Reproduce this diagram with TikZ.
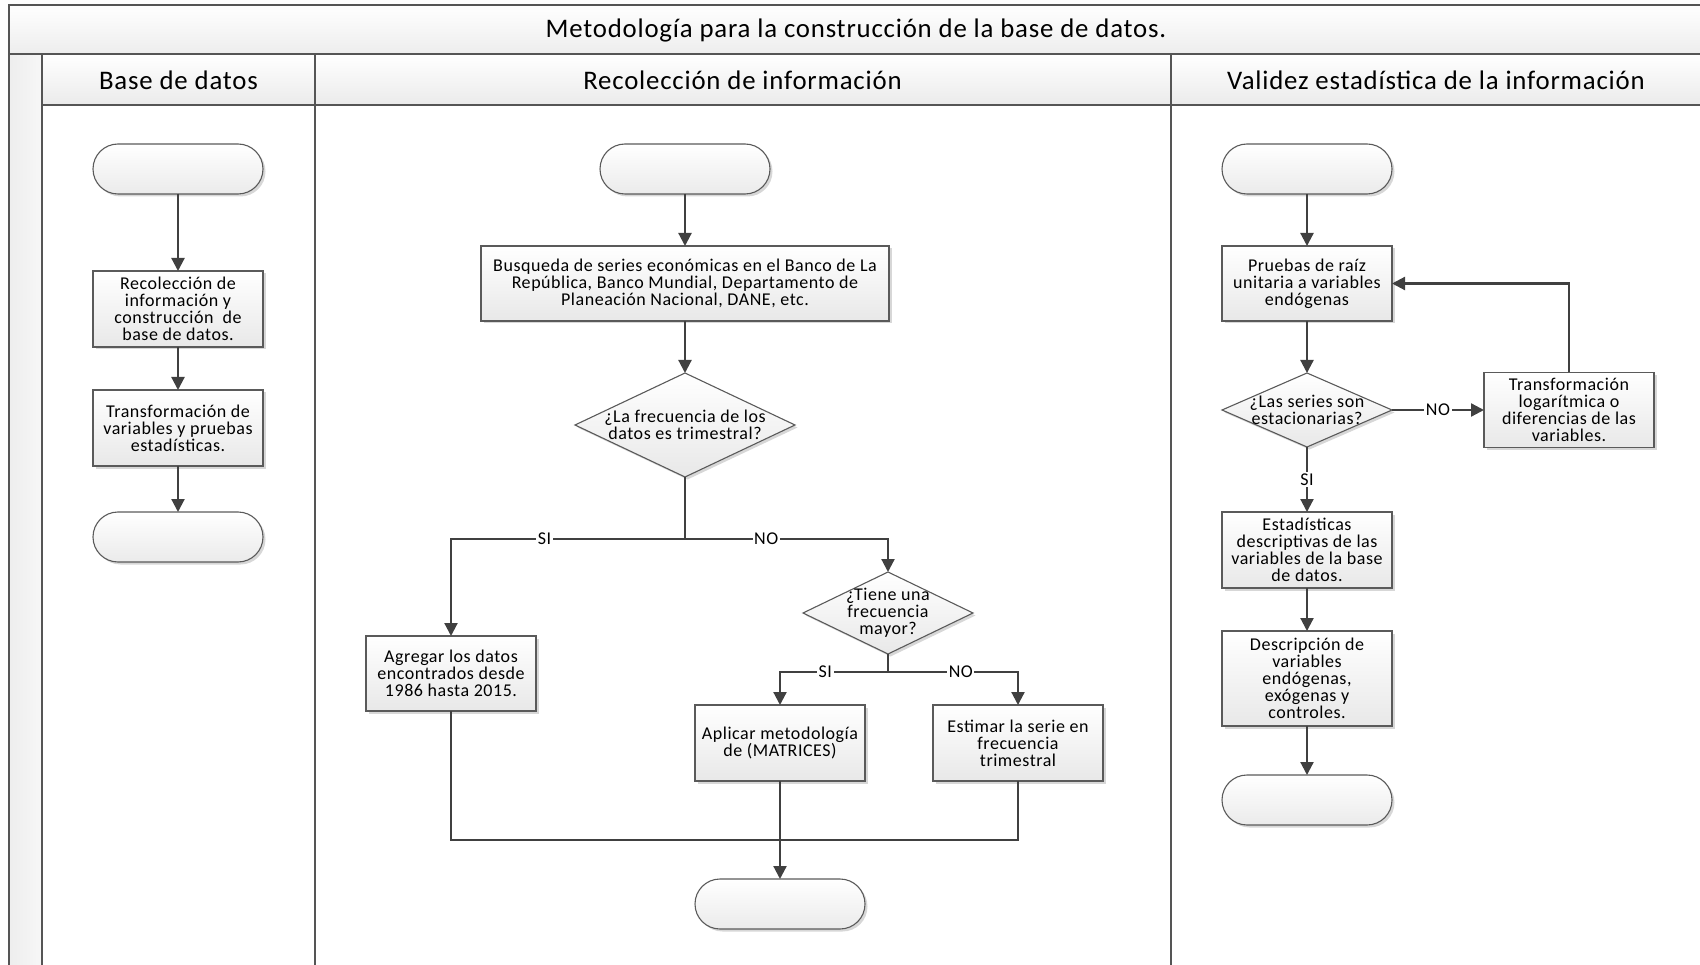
\documentclass[tikz,border=0pt]{standalone}
\usepackage{fontspec}
\setmainfont{Carlito}[LetterSpace=3]
\usetikzlibrary{positioning,shapes.geometric,shadows,arrows.meta}
\definecolor{linegray}{HTML}{404040}
\definecolor{edgegray}{HTML}{5A5A5A}
\definecolor{lanegray}{HTML}{555555}
\newcommand\bodyfont{\fontsize{18pt}{17pt}\selectfont}
\newcommand\headfont{\fontsize{26.8pt}{30pt}\selectfont}

\begin{document}
\begin{tikzpicture}[x=1pt, y=-1pt,
  shd/.style={drop shadow={shadow xshift=2.5pt, shadow yshift=-2.5pt, fill=black!35, opacity=.45}},
  term/.style={rectangle, rounded corners=25pt, draw=edgegray, line width=1.1pt, top color=white, bottom color=black!8, minimum width=170pt, minimum height=50pt, outer sep=0pt, shd},
  proc/.style={rectangle, draw=edgegray, line width=1.1pt, top color=white, bottom color=black!9, minimum width=170pt, minimum height=76pt, inner sep=0pt, outer sep=0pt, align=center, font=\bodyfont, shd},
  dec/.style={diamond, draw=edgegray, line width=1.1pt, top color=white, bottom color=black!9, minimum width=170pt, inner sep=0pt, outer sep=0pt, shd},
  dtext/.style={align=center, font=\bodyfont, inner sep=0pt},
  conn/.style={draw=linegray, line width=2.2pt},
  arr/.style={conn, -{Triangle[length=13pt, width=13pt]}},
  lbl/.style={fill=white, font=\bodyfont, inner sep=1.5pt},
  lane/.style={draw=lanegray, line width=2pt},
  head/.style={font=\headfont}]
\useasboundingbox (0,0) rectangle (1700,965);
\clip (0,0) rectangle (1700,965);
% swimlane frame
\path[top color=white, bottom color=black!7] (8.5,5) rectangle (1720,54);
\path[left color=black!7, right color=black!3] (8.5,54) rectangle (42,985);
\path[top color=white, bottom color=black!8] (42,54) rectangle (1720,105);
\draw[lane] (8.5,985) -- (8.5,5) -- (1720,5);
\draw[lane] (8.5,54) -- (1720,54);
\draw[lane] (42,105) -- (1720,105);
\draw[lane] (42,54) -- (42,985);
\draw[lane] (314.5,54) -- (314.5,985);
\draw[lane] (1171,54) -- (1171,985);
\node[head] (title) at (856,31) {Metodología para la construcción de la base de datos.};
\node[head] (h1) at (178.5,80) {Base de datos};
\node[head] (h2) at (742.5,80) {Recolección de información};
\node[head] (h3) at (1436,80) {Validez estadística de la información};
% lane 1
\node[term] (s1) at (178,169) {};
\node[proc, below=77pt of s1] (r1) {Recolección de\\información y\\construcción~ de\\base de datos.};
\node[proc, below=43pt of r1] (t1) {Transformación de\\variables y pruebas\\estadísticas.};
\node[term, below=46pt of t1] (e1) {};
\draw[arr] (s1) -- (r1);
\draw[arr] (r1) -- (t1);
\draw[arr] (t1) -- (e1);
% lane 2
\node[term] (s2) at (685,169) {};
\node[proc, minimum width=408pt, minimum height=75pt, below=52pt of s2] (b2) {Busqueda de series económicas en el Banco de La\\República, Banco Mundial, Departamento de\\Planeación Nacional, DANE, etc.};
\node[dec, minimum width=220pt, minimum height=104pt, below=52pt of b2, label={[dtext]center:{¿La frecuencia de los\\datos es trimestral?}}] (q1) {};
\node[proc, minimum height=75pt] (a2) at (451,673.5) {Agregar los datos\\encontrados desde\\1986 hasta 2015.};
\node[dec, minimum height=82pt, label={[dtext]center:{¿Tiene una\\frecuencia\\mayor?}}] (q2) at (888,613) {};
\node[proc] (m2) at (780,743) {Aplicar metodología\\de (MATRICES)};
\node[proc] (f2) at (1018,743) {Estimar la serie en\\frecuencia\\trimestral};
\node[term] (e2) at (780,904) {};
\coordinate (j1) at (685,539);
\coordinate (j2) at (888,672);
\coordinate (j3) at (780,840);
\draw[arr] (s2) -- (b2);
\draw[arr] (b2) -- (q1);
\draw[conn] (q1.south) -- (j1);
\draw[arr] (j1) -| node[lbl, pos=.3] {SI} (a2.north);
\draw[arr] (j1) -| node[lbl, pos=.2] {NO} (q2.north);
\draw[conn] (q2.south) -- (j2);
\draw[arr] (j2) -| node[lbl, pos=.29] {SI} (m2.north);
\draw[arr] (j2) -| node[lbl, pos=.28] {NO} (f2.north);
\draw[conn] (a2.south) |- (j3) -| (f2.south);
\draw[arr] (m2.south) -- (e2.north);
% lane 3
\node[term] (s3) at (1307,169) {};
\node[proc, minimum height=75pt, below=52pt of s3] (p3) {Pruebas de raíz\\unitaria a variables\\endógenas};
\node[dec, minimum height=74pt, below=52pt of p3, label={[dtext]center:{¿Las series son\\estacionarias?}}] (q3) {};
\node[proc, minimum height=75pt, right=92pt of q3] (x3) {Transformación\\logarítmica o\\diferencias de las\\variables.};
\node[proc, below=65pt of q3] (d3) {Estadísticas\\descriptivas de las\\variables de la base\\de datos.};
\node[proc, minimum height=95pt, below=43pt of d3] (c3) {Descripción de\\variables\\endógenas,\\exógenas y\\controles.};
\node[term, below=49pt of c3] (e3) {};
\draw[arr] (s3) -- (p3);
\draw[arr] (p3) -- (q3);
\draw[arr] (q3) -- node[lbl] {NO} (x3);
\draw[arr] (x3.north) |- (p3.east);
\draw[arr] (q3) -- node[lbl] {SI} (d3);
\draw[arr] (d3) -- (c3);
\draw[arr] (c3) -- (e3);
\end{tikzpicture}
\end{document}
